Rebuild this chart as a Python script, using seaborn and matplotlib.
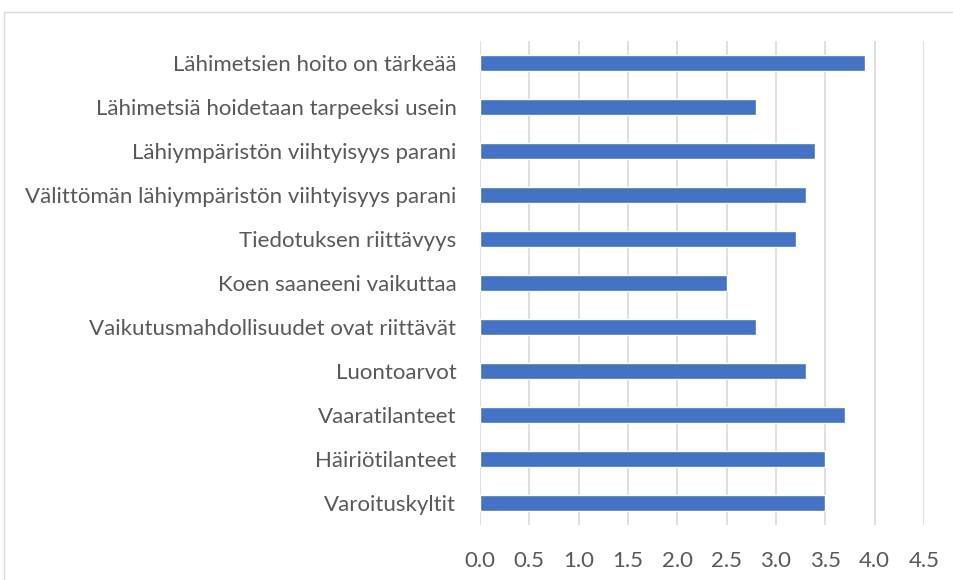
import matplotlib.pyplot as plt
import seaborn as sns
import pandas as pd
from matplotlib.patches import Rectangle

categories = [
    "Lähimetsien hoito on tärkeää",
    "Lähimetsiä hoidetaan tarpeeksi usein",
    "Lähiympäristön viihtyisyys parani",
    "Välittömän lähiympäristön viihtyisyys parani",
    "Tiedotuksen riittävyys",
    "Koen saaneeni vaikuttaa",
    "Vaikutusmahdollisuudet ovat riittävät",
    "Luontoarvot",
    "Vaaratilanteet",
    "Häiriötilanteet",
    "Varoituskyltit",
]
values = [3.9, 2.8, 3.4, 3.3, 3.2, 2.5, 2.8, 3.3, 3.7, 3.5, 3.5]
xticks = [0.0, 0.5, 1.0, 1.5, 2.0, 2.5, 3.0, 3.5, 4.0, 4.5]

sns.set_theme(style="white")
plt.rcParams['font.family'] = ['Lato', 'DejaVu Sans']

df = pd.DataFrame({"label": categories, "value": values})

fig = plt.figure(figsize=(9.54, 5.80), dpi=100)
ax = fig.add_axes([480 / 954, 1 - 525 / 580, 444 / 954, 484 / 580])

# outer chart frame (cut off at right and bottom like the source)
fig.patches.append(Rectangle((4.5 / 954, -0.1), 1.2, 1 - 12 / 580 + 0.1,
                             transform=fig.transFigure, fill=False,
                             edgecolor="#D9D9D9", lw=1.0))

sns.barplot(data=df, x="value", y="label", orient="h", color="#4472C4",
            width=0.36, saturation=1, ax=ax, zorder=3)

ax.set_xlim(0, 4.5)
ax.set_ylim(10.5, -0.5)
ax.set_xticks(xticks)
ax.set_xticklabels([f"{t:.1f}" for t in xticks])
ax.xaxis.grid(True, color="#D9D9D9", lw=1.2)
ax.set_axisbelow(True)
for s in ax.spines.values():
    s.set_visible(False)
ax.set_xlabel("")
ax.set_ylabel("")
ax.tick_params(axis="both", length=0, labelsize=16, labelcolor="#595959")
ax.tick_params(axis="y", pad=17)
ax.tick_params(axis="x", pad=19)

fig.savefig("out.png", dpi=100)
